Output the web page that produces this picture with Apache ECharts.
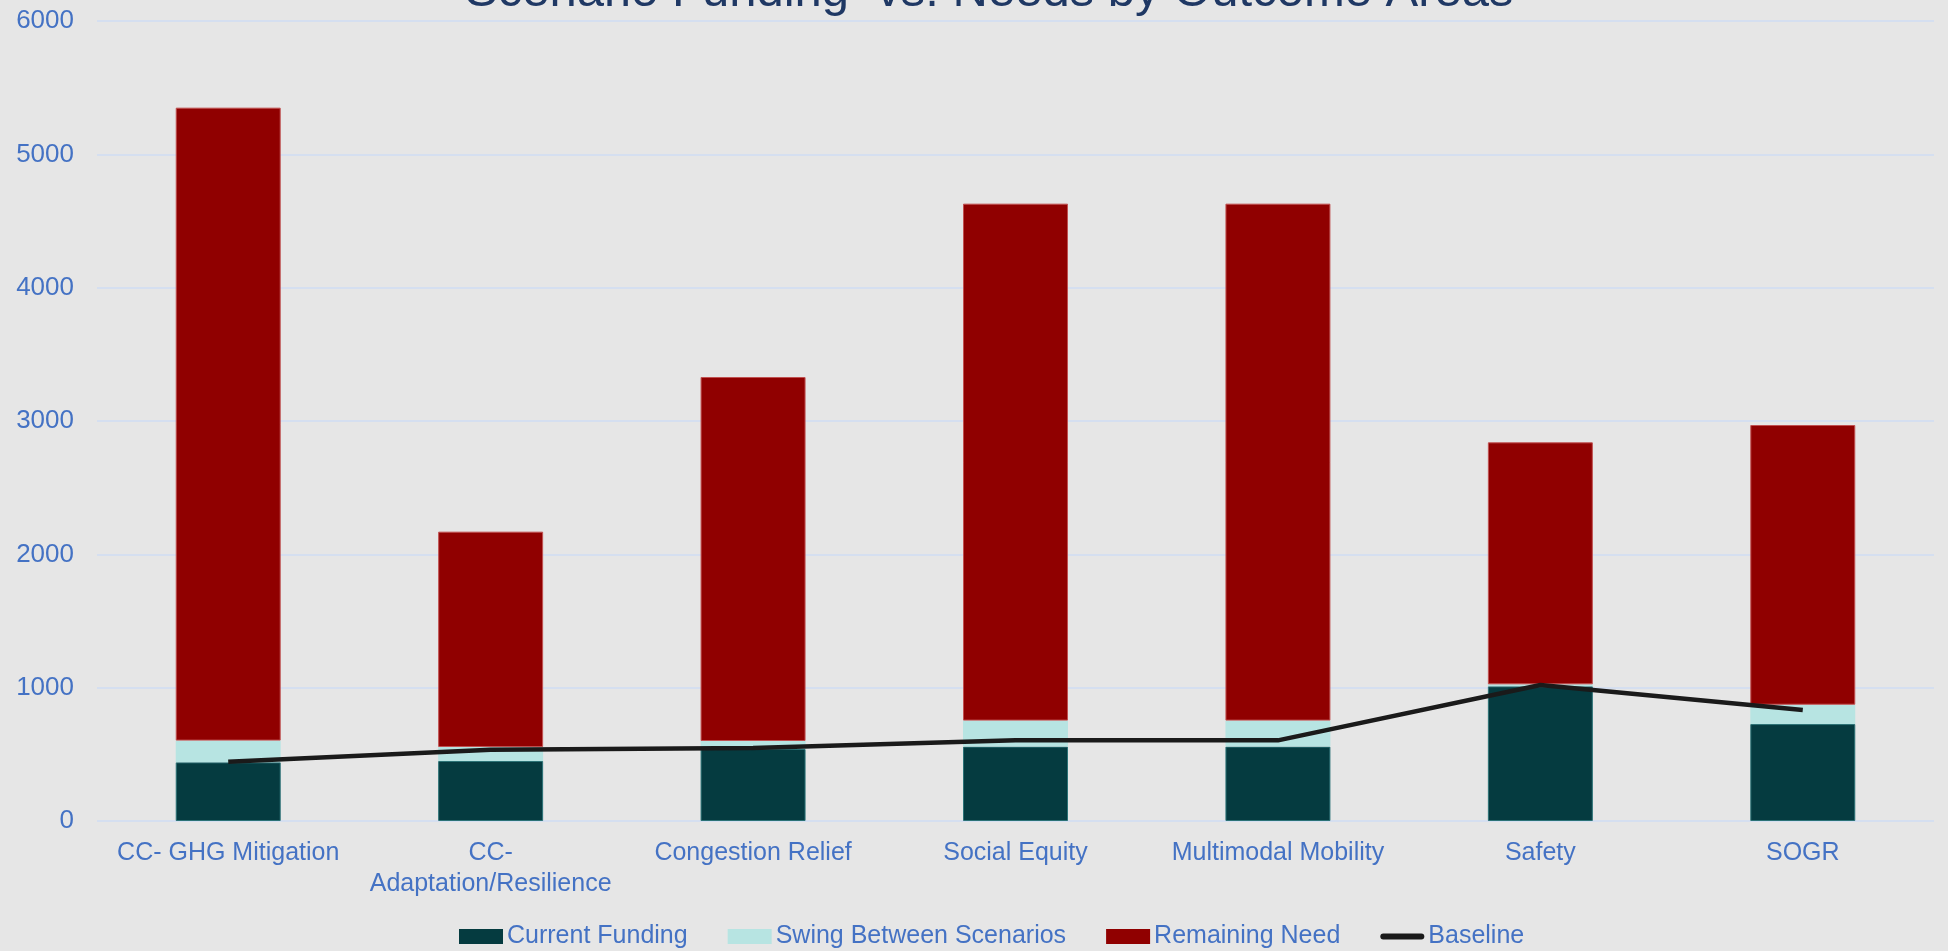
<!DOCTYPE html>
<html>
<head>
<meta charset="utf-8">
<script src="https://cdn.jsdelivr.net/npm/echarts@6/dist/echarts.min.js"></script>
<style>
  html, body { margin: 0; padding: 0; background: #e6e6e6; }
  #chart { width: 1948px; height: 951px; }
</style>
</head>
<body>
<div id="chart"></div>
<script>
var categories = ['CC- GHG Mitigation', 'CC- Adaptation/Resilience', 'Congestion Relief',
  'Social Equity', 'Multimodal Mobility', 'Safety', 'SOGR'];
var currentFunding = [440, 450, 540, 558, 558, 1010, 727];
var swingBetween = [163, 105, 60, 195, 195, 15, 145];
var remainingNeed = [4747, 1615, 2730, 3877, 3877, 1815, 2098];
var baseline = [445, 535, 548, 605, 605, 1020, 832];

var blue = '#4472c4';
var font = '"Liberation Sans", Arial, sans-serif';

var option = {
    backgroundColor: '#e6e6e6',
    animation: false,
    title: {
        text: 'Scenario Funding  vs. Needs by Outcome Areas',
        left: 460,
        top: -37,
        textStyle: {
            color: '#1f3864',
            fontFamily: font,
            fontWeight: 'normal',
            fontSize: 49
        }
    },
    legend: {
        top: 919,
        left: 454,
        itemWidth: 44,
        itemHeight: 15,
        itemGap: 40,
        itemStyle: { borderWidth: 0 },
        textStyle: { color: blue, fontFamily: font, fontSize: 25, padding: [0, 0, 0, -1] },
        data: [
            { name: 'Current Funding', icon: 'rect' },
            { name: 'Swing Between Scenarios', icon: 'rect' },
            { name: 'Remaining Need', icon: 'rect' },
            // thick rounded line, padded to the full icon box
            { name: 'Baseline', icon: 'path://M0,0 M44,15 M3,4.5h38a3,3 0 0 1 0,6h-38a3,3 0 0 1 0,-6z' }
        ]
    },
    grid: {
        left: 97,
        right: 14,
        top: 21,
        bottom: 130
    },
    xAxis: {
        type: 'category',
        data: categories,
        axisLine: { show: false },
        axisTick: { show: false },
        axisLabel: {
            color: blue,
            fontFamily: font,
            fontSize: 25,
            margin: 17,
            lineHeight: 31,
            interval: 0,
            formatter: function (v) {
                return v.length > 20 ? v.replace(' ', '\n') : v;
            }
        }
    },
    yAxis: {
        type: 'value',
        min: 0,
        max: 6000,
        interval: 1000,
        axisLine: { show: false },
        axisTick: { show: false },
        axisLabel: {
            color: blue,
            fontFamily: font,
            fontSize: 26,
            margin: 23,
            formatter: function (v) { return String(v); }
        },
        splitLine: { lineStyle: { color: '#d5dff0', width: 2 } }
    },
    series: [{
        name: 'Current Funding',
        type: 'bar',
        stack: 'total',
        barWidth: '40%',
        data: currentFunding,
        itemStyle: { color: '#053b40', borderColor: '#2b7276', borderWidth: 1 }
    }, {
        name: 'Swing Between Scenarios',
        type: 'bar',
        stack: 'total',
        data: swingBetween,
        itemStyle: { color: '#b7e4e2' }
    }, {
        name: 'Remaining Need',
        type: 'bar',
        stack: 'total',
        data: remainingNeed,
        itemStyle: { color: '#900000', borderColor: '#c05050', borderWidth: 1 }
    }, {
        name: 'Baseline',
        type: 'line',
        data: baseline,
        symbol: 'none',
        lineStyle: { color: '#1a1a1a', width: 4.5 },
        itemStyle: { color: '#1a1a1a' },
        z: 5
    }]
};

var chart = echarts.init(document.getElementById('chart'));
chart.setOption(option);
</script>
</body>
</html>
